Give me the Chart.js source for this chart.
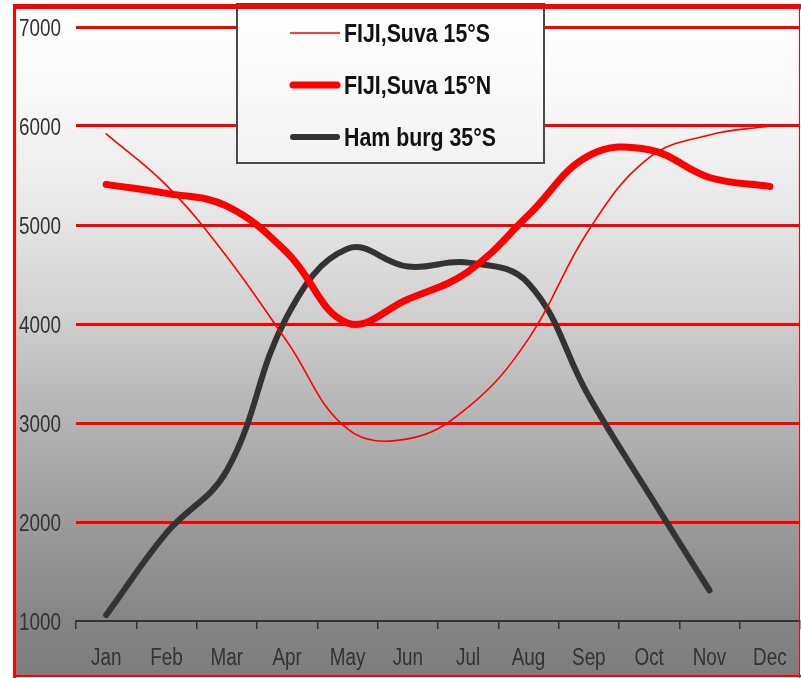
<!DOCTYPE html>
<html>
<head>
<meta charset="utf-8">
<script src="https://cdn.jsdelivr.net/npm/chart.js@4.4.1/dist/chart.umd.min.js"></script>
<style>
  html, body { margin: 0; padding: 0; background: #ffffff; }
  canvas { display: block; }
</style>
</head>
<body>
<canvas id="chart" width="801" height="678"></canvas>
<script>
// Month categories along the x axis
const months = ['Jan', 'Feb', 'Mar', 'Apr', 'May', 'Jun', 'Jul', 'Aug', 'Sep', 'Oct', 'Nov', 'Dec'];

// Series values per month
const suvaSouth = [5920, 5400, 4680, 3820, 2940, 2840, 3160, 3850, 4950, 5680, 5910, 6000];
const suvaNorth = [5410, 5320, 5190, 4720, 4010, 4250, 4530, 5100, 5700, 5760, 5480, 5390];
const hamburg   = [1060, 1890, 2520, 4080, 4760, 4580, 4620, 4410, 3270, 2280, 1310, null];

// Series names
const seriesNames = ['FIJI,Suva 15°S', 'FIJI,Suva 15°N', 'Ham burg 35°S'];

// Value axis range and step
const yMin = 1000;
const yMax = 7000;
const yStep = 1000;

const FONT = '"Liberation Sans", Arial, sans-serif';
const SQUEEZE = 0.82; // narrow lettering: horizontal scale applied to all text

// Draw text squeezed horizontally around its anchor point
function narrowText(ctx, text, x, y, align, font, color) {
  ctx.save();
  ctx.font = font;
  ctx.fillStyle = color;
  ctx.textBaseline = 'alphabetic';
  ctx.textAlign = align;
  ctx.translate(x, y);
  ctx.scale(SQUEEZE, 1);
  ctx.fillText(text, 0, 0);
  ctx.restore();
}

// Grey gradient backdrop behind the plot
const backdrop = {
  id: 'backdrop',
  beforeDraw(chart) {
    const ctx = chart.ctx;
    ctx.save();
    ctx.fillStyle = '#ffffff';
    ctx.fillRect(0, 0, chart.width, chart.height);
    const g = ctx.createLinearGradient(0, 9, 0, 676);
    g.addColorStop(0.0, '#ffffff');
    g.addColorStop(0.136, '#f8f8f8');
    g.addColorStop(0.286, '#e9e9e9');
    g.addColorStop(0.436, '#d4d4d4');
    g.addColorStop(0.556, '#bdbdbd');
    g.addColorStop(0.736, '#a0a0a0');
    g.addColorStop(0.916, '#858585');
    g.addColorStop(1.0, '#7d7d7d');
    ctx.fillStyle = g;
    ctx.fillRect(14, 9, 786, 667);
    ctx.restore();
  }
};

// Axis labels, boxed legend and red frame
const labelsLegendFrame = {
  id: 'labelsLegendFrame',
  afterDraw(chart) {
    const ctx = chart.ctx;
    const xs = chart.scales.x;
    const ys = chart.scales.y;
    const tickFont = '23px ' + FONT;

    // value axis labels, right aligned left of the plot
    ys.ticks.forEach((t) => {
      const py = ys.getPixelForValue(t.value);
      narrowText(ctx, String(t.value), 61, py + 8.5, 'right', tickFont, '#333333');
    });

    // month labels centred under each category
    chart.data.labels.forEach((lab, i) => {
      narrowText(ctx, lab, xs.getPixelForTick(i), 665, 'center', tickFont, '#333333');
    });

    ctx.save();
    // legend box
    const bx = 237, by = 4, bw = 307, bh = 159;
    const lg = ctx.createLinearGradient(0, by, 0, by + bh);
    lg.addColorStop(0, '#ffffff');
    lg.addColorStop(1, '#f3f3f3');
    ctx.fillStyle = lg;
    ctx.fillRect(bx, by, bw, bh);
    ctx.strokeStyle = '#4a4a4a';
    ctx.lineWidth = 2;
    ctx.strokeRect(bx, by, bw, bh);

    const rows = [33, 85, 137];
    chart.data.datasets.forEach((ds, i) => {
      const y = rows[i];
      const thick = ds.borderWidth > 3;
      ctx.beginPath();
      ctx.strokeStyle = ds.borderColor;
      ctx.lineWidth = ds.borderWidth;
      ctx.lineCap = thick ? 'round' : 'butt';
      ctx.moveTo(thick ? 293 : 290, y);
      ctx.lineTo(thick ? 337 : 340, y);
      ctx.stroke();
      narrowText(ctx, ds.label, 344, y + 9, 'left', 'bold 26px ' + FONT, '#111111');
    });

    // outer red frame
    ctx.fillStyle = '#ff0000';
    ctx.fillRect(13, 4, 788, 5);
    ctx.fillRect(13, 4, 3, 674);
    ctx.fillRect(13, 675, 788, 2);
    ctx.fillRect(799, 4, 1, 674);
    ctx.restore();
  }
};

new Chart(document.getElementById('chart'), {
  type: 'line',
  data: {
    labels: months,
    datasets: [
      { label: seriesNames[0], data: suvaSouth, borderColor: '#ff0000', borderWidth: 1.6 },
      { label: seriesNames[1], data: suvaNorth, borderColor: '#ff0000', borderWidth: 7 },
      { label: seriesNames[2], data: hamburg, borderColor: '#333333', borderWidth: 6 }
    ]
  },
  options: {
    responsive: false,
    animation: false,
    devicePixelRatio: 1,
    layout: { padding: { left: 0, right: 1, top: 27, bottom: 0 } },
    plugins: {
      legend: { display: false },
      tooltip: { enabled: false }
    },
    elements: {
      point: { radius: 0, hoverRadius: 0 },
      line: { tension: 0.4, borderCapStyle: 'round', borderJoinStyle: 'round', fill: false }
    },
    scales: {
      x: {
        offset: true,
        grid: {
          offset: true,
          drawOnChartArea: false,
          drawTicks: true,
          tickLength: 8,
          color: '#333333',
          lineWidth: 1.5
        },
        border: { color: '#333333', width: 2 },
        ticks: { display: false, autoSkip: false, maxRotation: 0 },
        afterFit(scale) { scale.height = 57; }
      },
      y: {
        min: yMin,
        max: yMax,
        ticks: { display: false, stepSize: yStep },
        grid: {
          color: (c) => (c.tick && c.tick.value === yMin) ? 'rgba(0,0,0,0)' : '#ff0000',
          lineWidth: 3,
          drawTicks: false
        },
        border: { display: false },
        afterFit(scale) { scale.width = 76; }
      }
    }
  },
  plugins: [backdrop, labelsLegendFrame]
});
</script>
</body>
</html>
